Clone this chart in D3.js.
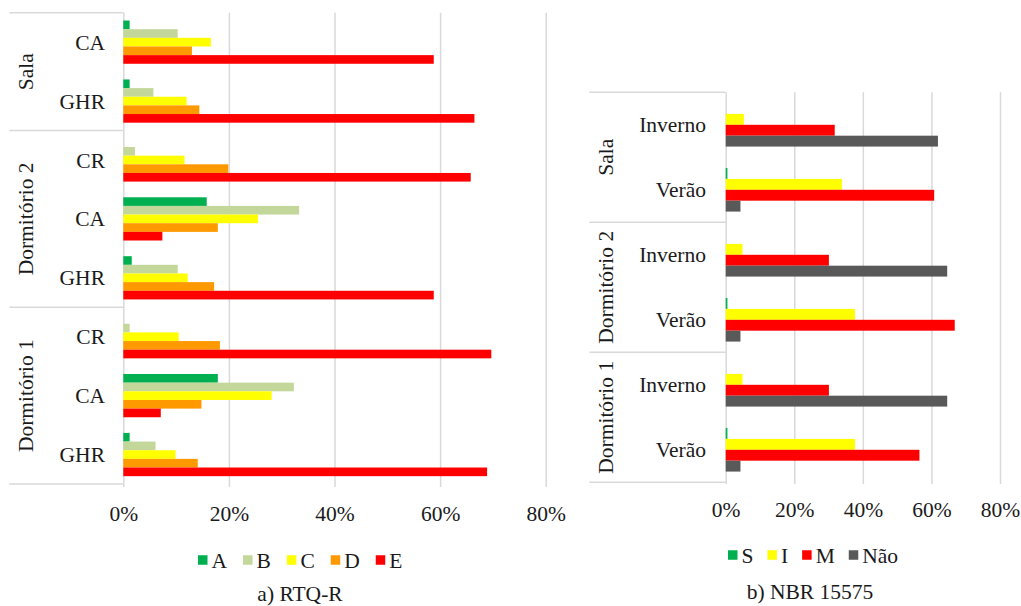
<!DOCTYPE html>
<html>
<head>
<meta charset="utf-8">
<script src="https://cdn.jsdelivr.net/npm/d3@7"></script>
<style>
  html, body { margin: 0; padding: 0; background: #fff; }
  svg { display: block; }
  svg text { font-family: "Liberation Serif", "Times New Roman", serif; }
</style>
</head>
<body>
<svg id="chart" width="1021" height="606"></svg>
<script>
// ---- a) RTQ-R : share of hours per efficiency level (%) ----
const rtqRooms = ["Sala", "Sala", "Dormitório 2", "Dormitório 2", "Dormitório 2", "Dormitório 1", "Dormitório 1", "Dormitório 1"];
const rtqCases = ["CA", "GHR", "CR", "CA", "GHR", "CR", "CA", "GHR"];
const rtqSeries = ["A", "B", "C", "D", "E"];
const rtqA = [1.2, 1.2, 0, 15.8, 1.6, 0, 17.9, 1.2];
const rtqB = [10.3, 5.7, 2.2, 33.3, 10.3, 1.2, 32.3, 6.1];
const rtqC = [16.6, 12.0, 11.6, 25.5, 12.2, 10.5, 28.1, 9.9];
const rtqD = [13.0, 14.4, 19.9, 17.9, 17.2, 18.3, 14.8, 14.1];
const rtqE = [58.8, 66.5, 65.8, 7.4, 58.8, 69.7, 7.1, 68.9];

// ---- b) NBR 15575 : share of hours per performance level (%) ----
const nbrRooms = ["Sala", "Sala", "Dormitório 2", "Dormitório 2", "Dormitório 1", "Dormitório 1"];
const nbrSeasons = ["Inverno", "Verão", "Inverno", "Verão", "Inverno", "Verão"];
const nbrSeries = ["S", "I", "M", "Não"];
const nbrS = [0, 0.5, 0, 0.5, 0, 0.5];
const nbrI = [5.3, 33.9, 4.9, 37.7, 4.9, 37.7];
const nbrM = [31.8, 60.8, 30.1, 66.8, 30.1, 56.5];
const nbrNao = [61.9, 4.3, 64.6, 4.3, 64.6, 4.3];

const tickValues = [0, 20, 40, 60, 80];

const rtqColors = ["#00b050", "#c4d79b", "#ffff00", "#ff9900", "#ff0000"];
const nbrColors = ["#00b050", "#ffff00", "#ff0000", "#595959"];
const gridColor = "#d9d9d9";
const textColor = "#1a1a1a";
const fontFamily = "Liberation Serif, Times New Roman, serif";
const fontSize = 21.5;

const svg = d3.select("#chart")
  .attr("font-family", fontFamily)
  .attr("font-size", fontSize)
  .attr("fill", textColor);

function panel(o) {
  const g = svg.append("g");
  const n = o.cases.length;

  const x = d3.scaleLinear().domain([0, 80]).range([o.x0, o.x1]);
  const y0 = d3.scaleBand().domain(d3.range(n)).range([o.top, o.bottom])
    .paddingInner(o.pad).paddingOuter(o.pad / 2);
  const y1 = d3.scaleBand().domain(o.series).range([0, y0.bandwidth()]);

  // vertical gridlines and percentage labels
  const axis = d3.axisBottom(x)
    .tickValues(tickValues)
    .tickFormat(d => d + "%")
    .tickSize(-(o.gridBottom - o.top))
    .tickSizeOuter(0);
  const ax = g.append("g")
    .attr("transform", `translate(0,${o.gridBottom})`)
    .call(axis)
    .attr("font-family", fontFamily)
    .attr("font-size", fontSize);
  ax.select(".domain").remove();
  ax.selectAll(".tick line").attr("stroke", gridColor).attr("stroke-width", 1.5);
  ax.selectAll(".tick text")
    .attr("y", o.tickY - o.gridBottom)
    .attr("dy", "0.35em")
    .attr("fill", textColor);

  // bars
  o.series.forEach((s, si) => {
    g.append("g").selectAll("rect")
      .data(o.values[si])
      .join("rect")
      .attr("x", x(0))
      .attr("y", (d, i) => y0(i) + y1(s))
      .attr("width", d => x(d) - x(0))
      .attr("height", y1.bandwidth())
      .attr("fill", o.colors[si]);
  });

  // multi-level category axis: group separators
  const half = y0.step() * o.pad / 2;
  const edges = [0];
  for (let i = 1; i < n; i++) if (o.rooms[i] !== o.rooms[i - 1]) edges.push(i);
  edges.push(n);
  const edgeY = k => k < n ? y0(k) - half : y0(n - 1) + y0.bandwidth() + half;

  g.append("g").selectAll("line")
    .data(edges)
    .join("line")
    .attr("x1", o.boxLeft)
    .attr("x2", x(0))
    .attr("y1", k => edgeY(k))
    .attr("y2", k => edgeY(k))
    .attr("stroke", gridColor)
    .attr("stroke-width", 1.5);

  // inner category labels
  g.append("g").selectAll("text")
    .data(o.cases)
    .join("text")
    .attr("x", o.labelRight)
    .attr("y", (d, i) => y0(i) + y0.bandwidth() / 2)
    .attr("dy", "0.35em")
    .attr("text-anchor", "end")
    .text(d => d);

  // outer (room) labels, rotated
  const groups = edges.slice(0, -1).map((k, j) => ({
    name: o.rooms[k],
    mid: (edgeY(k) + edgeY(edges[j + 1])) / 2
  }));
  g.append("g").selectAll("text")
    .data(groups)
    .join("text")
    .attr("transform", d => `translate(${o.groupX},${d.mid}) rotate(-90)`)
    .attr("dy", "0.35em")
    .attr("text-anchor", "middle")
    .text(d => d.name);

  // legend
  const lg = g.append("g").attr("transform", `translate(0,${o.legendY})`);
  let cx = o.legendX;
  o.series.forEach((s, si) => {
    lg.append("rect")
      .attr("x", cx).attr("y", -4.75)
      .attr("width", 9.5).attr("height", 9.5)
      .attr("fill", o.colors[si]);
    const t = lg.append("text")
      .attr("x", cx + 9.5 + 4)
      .attr("dy", "0.35em")
      .text(s);
    cx += 9.5 + 4 + t.node().getComputedTextLength() + o.legendGap;
  });

  // caption
  g.append("text")
    .attr("x", o.titleX)
    .attr("y", o.titleY)
    .attr("dy", "0.35em")
    .attr("text-anchor", "middle")
    .text(o.title);
}

panel({
  rooms: rtqRooms, cases: rtqCases, series: rtqSeries,
  values: [rtqA, rtqB, rtqC, rtqD, rtqE], colors: rtqColors,
  x0: 123.3, x1: 545.7, top: 12.7, bottom: 484, gridBottom: 487, pad: 0.266,
  boxLeft: 9.3, labelRight: 105, groupX: 25,
  tickY: 513, legendY: 560, legendX: 198, legendGap: 16,
  title: "a) RTQ-R", titleX: 300, titleY: 593
});

panel({
  rooms: nbrRooms, cases: nbrSeasons, series: nbrSeries,
  values: [nbrS, nbrI, nbrM, nbrNao], colors: nbrColors,
  x0: 725.7, x1: 1000, top: 92.3, bottom: 482.3, gridBottom: 484, pad: 0.33,
  boxLeft: 589.3, labelRight: 706, groupX: 605,
  tickY: 509, legendY: 555, legendX: 728, legendGap: 14,
  title: "b) NBR 15575", titleX: 810, titleY: 591
});
</script>
</body>
</html>
